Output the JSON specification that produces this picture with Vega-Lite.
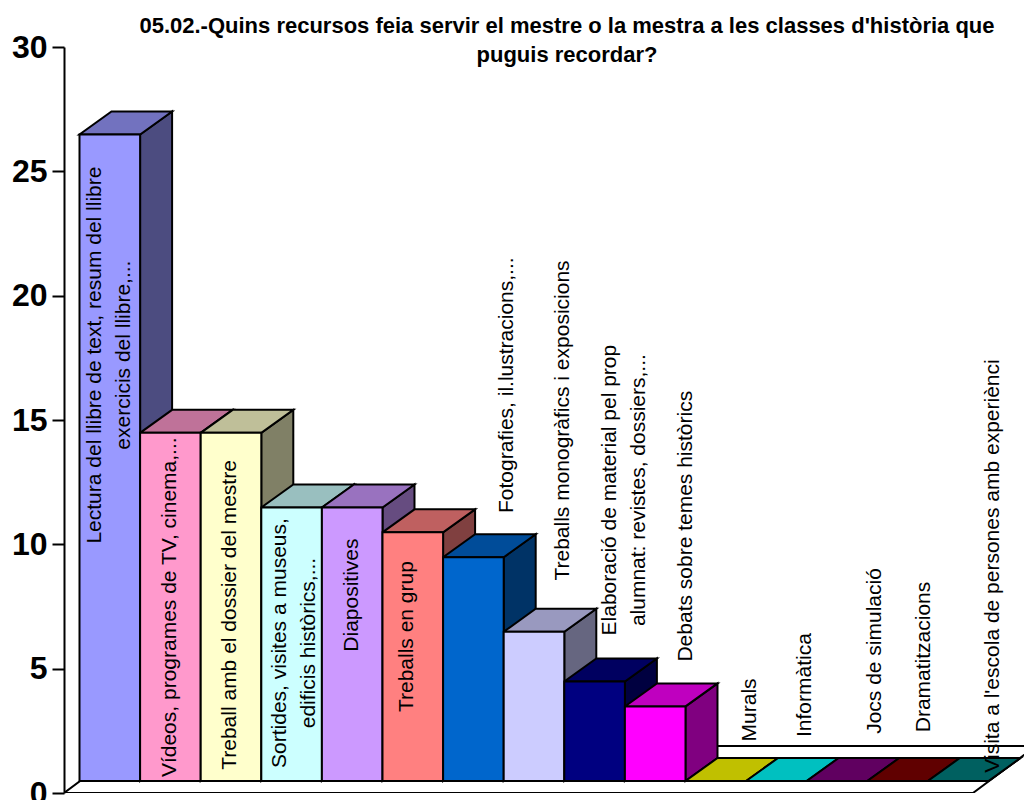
{
  "$schema": "https://vega.github.io/schema/vega-lite/v6.json",
  "autosize": {"type": "none"},
  "padding": {"left": 64, "top": 47, "right": 0, "bottom": 7},
  "width": 960,
  "height": 746,
  "background": "white",
  "title": {
    "text": ["05.02.-Quins recursos feia servir el mestre o la mestra a les classes d'història que", "puguis recordar?"],
    "font": "Liberation Sans",
    "fontSize": 22,
    "fontWeight": "bold",
    "color": "black",
    "anchor": "middle",
    "frame": "group",
    "dx": 23,
    "lineHeight": 29,
    "offset": -36
  },
  "config": {"view": {"stroke": null}},
  "data": {
    "values": [
      {"n": 1, "value": 26, "label": "Lectura del llibre de text, resum del llibre\nexercicis del llibre,..."},
      {"n": 2, "value": 14, "label": "Vídeos, programes de TV, cinema,..."},
      {"n": 3, "value": 14, "label": "Treball amb el dossier del mestre"},
      {"n": 4, "value": 11, "label": "Sortides, visites a museus,\nedificis històrics,..."},
      {"n": 5, "value": 11, "label": "Diapositives"},
      {"n": 6, "value": 10, "label": "Treballs en grup"},
      {"n": 7, "value": 9, "label": "Fotografies, il.lustracions,..."},
      {"n": 8, "value": 6, "label": "Treballs monogràfics i exposicions"},
      {"n": 9, "value": 4, "label": "Elaboració de material pel prop\nalumnat: revistes, dossiers,..."},
      {"n": 10, "value": 3, "label": "Debats sobre temes històrics"},
      {"n": 11, "value": 0, "label": "Murals"},
      {"n": 12, "value": 0, "label": "Informàtica"},
      {"n": 13, "value": 0, "label": "Jocs de simulació"},
      {"n": 14, "value": 0, "label": "Dramatitzacions"},
      {"n": 15, "value": 0, "label": "Visita a l'escola de persones amb experiènci"}
    ]
  },
  "transform": [
    {"calculate": "datum.n - 1", "as": "left"},
    {"calculate": "datum.n", "as": "right"},
    {"calculate": "datum.value + 0.4825", "as": "top"}
  ],
  "layer": [
    {
      "data": {"values": [{"plane": "floor"}]},
      "transform": [
        {"calculate": "[0, 1, 2, 3]", "as": "corner"},
        {"flatten": ["corner"]},
        {"calculate": "[-0.2558, 0.7838, 14.744, 15.784][datum.corner]", "as": "fx"},
        {"calculate": "[0, 0, 0, 1.89][datum.corner]", "as": "lo"},
        {"calculate": "[0, 1.89, 1.89, 1.89][datum.corner]", "as": "hi"}
      ],
      "mark": {"type": "area", "orient": "vertical", "fill": "white", "stroke": "black", "strokeWidth": 2, "clip": true},
      "encoding": {
        "x": {"field": "fx", "type": "quantitative", "scale": {"domain": [-0.2558, 15.586], "nice": false, "zero": false}, "axis": null},
        "y": {
          "field": "lo",
          "type": "quantitative",
          "stack": null,
          "scale": {"domain": [0, 30], "nice": false},
          "axis": {
            "title": null,
            "values": [0, 5, 10, 15, 20, 25, 30],
            "grid": false,
            "domainColor": "black",
            "domainWidth": 2,
            "tickColor": "black",
            "tickWidth": 2,
            "tickSize": 12,
            "labelFont": "Liberation Sans",
            "labelFontSize": 32,
            "labelFontWeight": "bold",
            "labelColor": "black",
            "labelPadding": 5
          }
        },
        "y2": {"field": "hi"}
      }
    },
    {
      "transform": [
        {"calculate": "[0, 1]", "as": "corner"},
        {"flatten": ["corner"]},
        {"calculate": "datum.right + datum.corner * 0.528", "as": "fx"},
        {"calculate": "0.4825 + datum.corner * 0.925", "as": "lo"},
        {"calculate": "datum.top + datum.corner * 0.925", "as": "hi"}
      ],
      "mark": {"type": "area", "orient": "vertical", "stroke": "black", "strokeWidth": 2, "opacity": 1},
      "encoding": {
        "x": {"field": "fx", "type": "quantitative"},
        "y": {"field": "lo", "type": "quantitative", "stack": null},
        "y2": {"field": "hi"},
        "fill": {
          "field": "n",
          "type": "nominal",
          "legend": null,
          "scale": {
            "domain": [1, 2, 3, 4, 5, 6, 7, 8, 9, 10, 11, 12, 13, 14, 15],
            "range": ["#4c4c80", "#804c66", "#808066", "#668080", "#664c80", "#804040", "#003366", "#666680", "#000040", "#800080", "#808000", "#008080", "#400040", "#400000", "#004040"]
          }
        }
      }
    },
    {
      "transform": [
        {"calculate": "[0, 1, 2, 3]", "as": "corner"},
        {"flatten": ["corner"]},
        {"calculate": "[datum.left, datum.left + 0.528, datum.right, datum.right + 0.528][datum.corner]", "as": "fx"},
        {"calculate": "datum.corner == 3 ? datum.top + 0.925 : datum.top", "as": "lo"},
        {"calculate": "datum.corner == 0 ? datum.top : datum.top + 0.925", "as": "hi"}
      ],
      "mark": {"type": "area", "orient": "vertical", "stroke": "black", "strokeWidth": 2, "opacity": 1},
      "encoding": {
        "x": {"field": "fx", "type": "quantitative"},
        "y": {"field": "lo", "type": "quantitative", "stack": null},
        "y2": {"field": "hi"},
        "fill": {
          "field": "n",
          "type": "nominal",
          "legend": null,
          "scale": {
            "domain": [1, 2, 3, 4, 5, 6, 7, 8, 9, 10, 11, 12, 13, 14, 15],
            "range": ["#7272bf", "#bf7299", "#bfbf99", "#99bfbf", "#9972bf", "#bf6060", "#004c99", "#9999bf", "#000060", "#bf00bf", "#c0c000", "#00c0c0", "#600060", "#600000", "#006060"]
          }
        }
      }
    },
    {
      "transform": [{"calculate": "0.4825", "as": "base"}],
      "mark": {"type": "rect", "stroke": "black", "strokeWidth": 2, "opacity": 1},
      "encoding": {
        "x": {"field": "left", "type": "quantitative"},
        "x2": {"field": "right"},
        "y": {"field": "base", "type": "quantitative"},
        "y2": {"field": "top"},
        "fill": {
          "field": "n",
          "type": "nominal",
          "legend": null,
          "scale": {
            "domain": [1, 2, 3, 4, 5, 6, 7, 8, 9, 10, 11, 12, 13, 14, 15],
            "range": ["#9999ff", "#ff99cc", "#ffffcc", "#ccffff", "#cc99ff", "#ff8080", "#0066cc", "#ccccff", "#000080", "#ff00ff", "#ffff00", "#00ffff", "#800080", "#800000", "#008080"]
          }
        }
      }
    },
    {
      "transform": [
        {"calculate": "[0.26, 1.49, 2.49, 3.31, 4.49, 5.40, 7.05, 7.98, 8.75, 10.01, 11.06, 11.97, 13.13, 13.93, 15.07][datum.n - 1]", "as": "labelX"},
        {"calculate": "[17.61, 7.47, 7.16, 6.03, 7.96, 6.29, 16.40, 14.98, 12.18, 10.73, 3.34, 4.34, 5.71, 5.47, 9.13][datum.n - 1]", "as": "labelY"}
      ],
      "mark": {
        "type": "text",
        "font": "Liberation Sans",
        "fontSize": 21,
        "color": "black",
        "angle": 270,
        "align": "center",
        "baseline": "middle",
        "lineBreak": "\n",
        "lineHeight": 29
      },
      "encoding": {
        "x": {"field": "labelX", "type": "quantitative"},
        "y": {"field": "labelY", "type": "quantitative"},
        "text": {"field": "label"}
      }
    }
  ],
  "resolve": {"scale": {"fill": "independent"}}
}
